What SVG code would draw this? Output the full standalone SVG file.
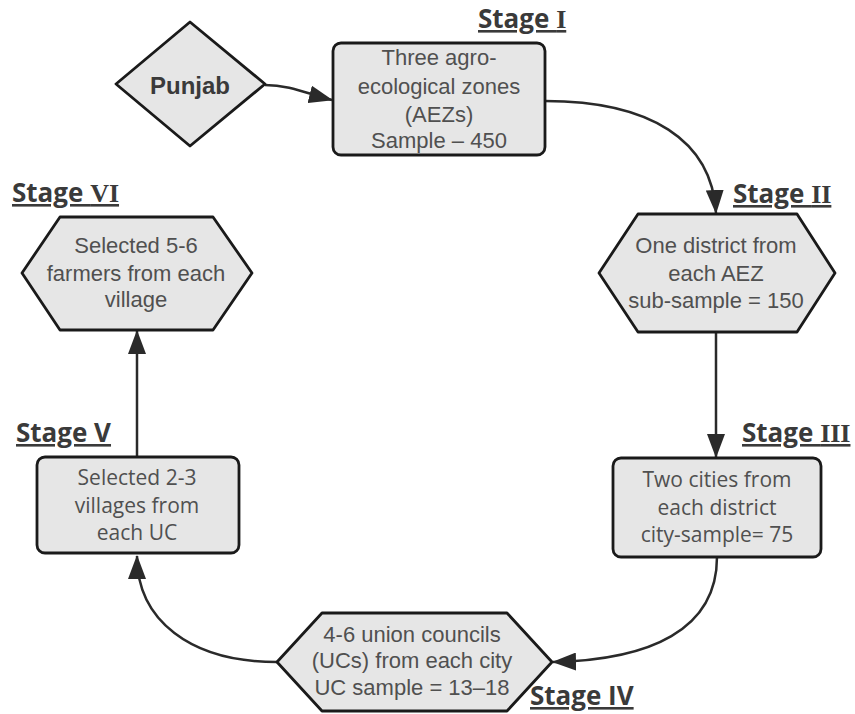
<svg xmlns="http://www.w3.org/2000/svg" width="855" height="714" viewBox="0 0 855 714">
<style>
.shape{fill:#e6e6e6;stroke:#1a1a1a;stroke-width:2.8;stroke-linejoin:round}
.arial{font-family:"Liberation Sans",Arial,sans-serif;font-size:22px;fill:#505050;text-anchor:middle}
.segoe{font-family:"Open Sans","Noto Sans",sans-serif;font-size:21px;fill:#505050;text-anchor:middle}
.stage{font-family:"Open Sans","Noto Sans",sans-serif;font-size:26px;font-weight:bold;fill:#3a3a3a;text-decoration:underline}
.num{font-family:"Liberation Serif","Times New Roman",serif;font-weight:bold}
.conn{fill:none;stroke:#2a2a2a;stroke-width:2.5}
</style>
<defs>
<marker id="arr" markerUnits="userSpaceOnUse" markerWidth="24" markerHeight="18" viewBox="0 0 24 18" refX="23" refY="9" orient="auto">
<path d="M0,0 L24,9 L0,18 z" fill="#2a2a2a"/>
</marker>
</defs>
<g id="connectors">
<path class="conn" d="M265,85 C290,85 308,94 332,100" marker-end="url(#arr)"/>
<path class="conn" d="M545,101 C650,101 712,140 716,213" marker-end="url(#arr)"/>
<path class="conn" d="M716,332 L716,457" marker-end="url(#arr)"/>
<path class="conn" d="M717,557 C717,630 650,660 553,662" marker-end="url(#arr)"/>
<path class="conn" d="M277,662 C190,662 137,620 137,556" marker-end="url(#arr)"/>
<path class="conn" d="M137,457 L137,331" marker-end="url(#arr)"/>
</g>
<g id="punjab">
<polygon class="shape" points="190,22 265,84 190,146 116,84"/>
<text x="190" y="94" class="arial" style="font-weight:bold;font-size:24px;fill:#3a3a3a">Punjab</text>
</g>
<g id="stage1">
<rect class="shape" x="333" y="43" width="212" height="112" rx="8"/>
<text class="arial" x="439" y="65">Three agro-</text>
<text class="arial" x="439" y="94">ecological zones</text>
<text class="arial" x="439" y="122">(AEZs)</text>
<text class="arial" x="439" y="148">Sample – 450</text>
<text class="stage" x="478" y="28">Stage <tspan class="num">I</tspan></text>
</g>
<g id="stage2">
<polygon class="shape" points="599,273 638,214 797,214 835,273 797,332 638,332"/>
<text class="arial" x="716" y="253">One district from</text>
<text class="arial" x="716" y="281">each AEZ</text>
<text class="arial" x="716" y="308">sub-sample = 150</text>
<text class="stage" x="733" y="203">Stage <tspan class="num">II</tspan></text>
</g>
<g id="stage3">
<rect class="shape" x="613" y="458" width="208" height="99" rx="8"/>
<text class="segoe" x="717" y="487">Two cities from</text>
<text class="segoe" x="717" y="515">each district</text>
<text class="segoe" x="717" y="542">city-sample= 75</text>
<text class="stage" x="742" y="442">Stage <tspan class="num">III</tspan></text>
</g>
<g id="stage4">
<polygon class="shape" points="277,662 322,613 507,613 552,662 507,711 322,711"/>
<text class="arial" x="412" y="642">4-6 union councils</text>
<text class="arial" x="412" y="668">(UCs) from each city</text>
<text class="arial" x="412" y="695">UC sample = 13–18</text>
<text class="stage" x="530" y="705">Stage IV</text>
</g>
<g id="stage5">
<rect class="shape" x="37" y="457" width="202" height="96" rx="8"/>
<text class="segoe" x="137" y="485">Selected 2-3</text>
<text class="segoe" x="137" y="513">villages from</text>
<text class="segoe" x="137" y="540">each UC</text>
<text class="stage" x="16" y="442">Stage V</text>
</g>
<g id="stage6">
<polygon class="shape" points="22,273 60,217 213,217 252,273 213,330 60,330"/>
<text class="arial" x="136" y="253">Selected 5-6</text>
<text class="arial" x="136" y="281">farmers from each</text>
<text class="arial" x="136" y="307">village</text>
<text class="stage" x="12" y="202">Stage <tspan class="num">VI</tspan></text>
</g>
</svg>
